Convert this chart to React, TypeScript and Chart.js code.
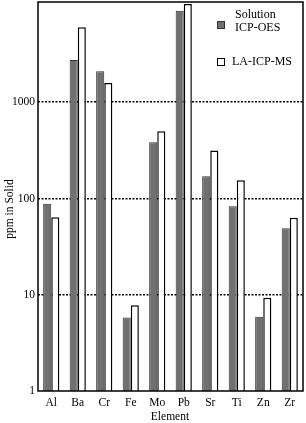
import React, { useEffect, useRef } from "react";
import { Chart, registerables } from "chart.js";

Chart.register(...registerables);

const elements = ["Al", "Ba", "Cr", "Fe", "Mo", "Pb", "Sr", "Ti", "Zn", "Zr"];
const solutionIcpOes = [88, 2740, 2100, 5.8, 383, 8900, 170, 83, 5.9, 49];
const laIcpMs = [64, 6000, 1580, 7.8, 500, 10500, 315, 155, 9.3, 63];
const yTickValues = [1, 10, 100, 1000];
const legendLabels = [["Solution", "ICP-OES"], ["LA-ICP-MS"]];
const yTitle = "ppm in Solid";
const xTitle = "Element";

const FONT = "'Liberation Serif', 'Times New Roman', serif";

const decorPlugin = {
  id: "decor",
  afterDatasetsDraw(chart: any) {
    const { ctx, chartArea } = chart;
    ctx.save();
    ctx.strokeStyle = "#000";
    ctx.lineWidth = 1.5;
    ctx.setLineDash([]);
    ctx.strokeRect(chartArea.left, chartArea.top, chartArea.right - chartArea.left, chartArea.bottom - chartArea.top);

    // legend
    ctx.fillStyle = "#707070";
    ctx.strokeStyle = "#333";
    ctx.lineWidth = 1;
    ctx.fillRect(217, 21, 8, 8);
    ctx.strokeRect(217.5, 21.5, 7, 7);
    ctx.fillStyle = "#fff";
    ctx.strokeStyle = "#000";
    ctx.fillRect(217, 58, 8, 8);
    ctx.strokeRect(217.5, 58.5, 7, 7);
    ctx.fillStyle = "#000";
    ctx.font = `12px ${FONT}`;
    ctx.textBaseline = "middle";
    ctx.textAlign = "left";
    ctx.fillText(legendLabels[0][0], 235, 15);
    ctx.fillText(legendLabels[0][1], 235, 28);
    ctx.fillText(legendLabels[1][0], 232, 62);

    // axis titles
    ctx.font = `11.5px ${FONT}`;
    ctx.textAlign = "center";
    ctx.fillText(xTitle, 170, 417);
    ctx.translate(10, 209);
    ctx.rotate(-Math.PI / 2);
    ctx.fillText(yTitle, 0, 0);
    ctx.restore();
  },
};

export default function App() {
  const ref = useRef<HTMLCanvasElement>(null);
  useEffect(() => {
    document.body.style.margin = "0";
    const chart = new Chart(ref.current!, {
      type: "bar",
      data: {
        labels: elements,
        datasets: [
          {
            label: "Solution ICP-OES",
            data: solutionIcpOes,
            backgroundColor: "#707070",
            borderColor: "#333333",
            borderWidth: 1,
            barPercentage: 1,
            categoryPercentage: 0.61,
          },
          {
            label: "LA-ICP-MS",
            data: laIcpMs,
            backgroundColor: "#ffffff",
            borderColor: "#000000",
            borderWidth: 1.5,
            barPercentage: 1,
            categoryPercentage: 0.61,
          },
        ],
      },
      options: {
        animation: false,
        responsive: false,
        maintainAspectRatio: false,
        layout: { padding: { top: 2, right: 3, left: 0, bottom: 0 } },
        plugins: { legend: { display: false }, tooltip: { enabled: false } },
        scales: {
          x: {
            grid: { display: false, drawTicks: false },
            border: { display: false },
            ticks: { color: "#000", font: { family: FONT, size: 11.5 }, padding: 5, maxRotation: 0 },
            afterFit: (s: any) => {
              s.height = 32;
              s.paddingLeft = 0;
              s.paddingRight = 0;
            },
          },
          y: {
            type: "logarithmic",
            min: 1,
            max: 11000,
            border: { display: false, dash: [2, 1.5] },
            grid: {
              drawTicks: false,
              color: (c: any) => (c.tick && c.tick.value === 1 ? "rgba(0,0,0,0)" : "#000"),
              lineWidth: 1.5,
            },
            ticks: {
              color: "#000",
              font: { family: FONT, size: 11.5 },
              padding: 3,
              callback: (v: any) => String(v),
            },
            afterBuildTicks: (s: any) => {
              s.ticks = yTickValues.map((v) => ({ value: v }));
            },
            afterFit: (s: any) => {
              s.width = 38;
              s.paddingTop = 0;
              s.paddingBottom = 0;
            },
          },
        },
      },
      plugins: [decorPlugin],
    } as any);
    return () => chart.destroy();
  }, []);
  return (
    <div style={{ width: 306, height: 423 }}>
      <canvas ref={ref} width={306} height={423} style={{ width: 306, height: 423 }} />
    </div>
  );
}
